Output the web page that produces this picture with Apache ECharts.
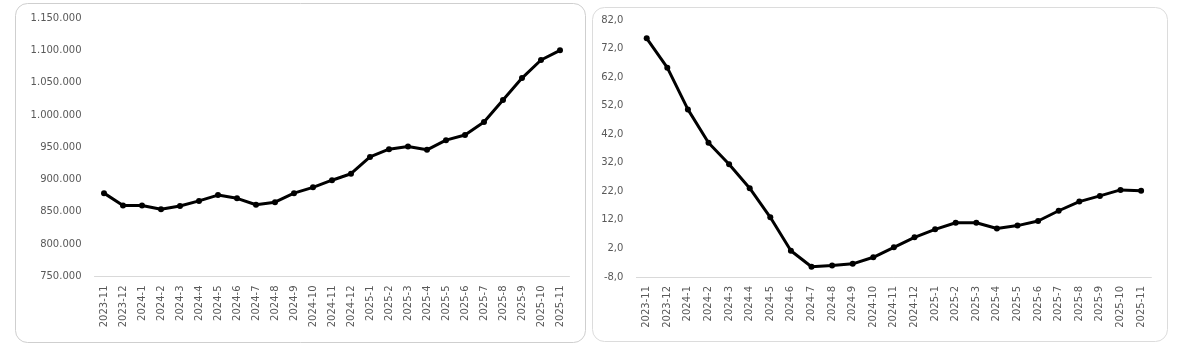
<!DOCTYPE html>
<html>
<head>
<meta charset="utf-8">
<script src="https://cdn.jsdelivr.net/npm/echarts@6/dist/echarts.min.js"></script>
<style>
html,body{margin:0;padding:0;background:#fff;}
#c{width:1200px;height:352px;}
</style>
</head>
<body>
<div id="c"></div>
<script>
const categories = ['2023-11','2023-12','2024-1','2024-2','2024-3','2024-4','2024-5','2024-6','2024-7','2024-8','2024-9','2024-10','2024-11','2024-12','2025-1','2025-2','2025-3','2025-4','2025-5','2025-6','2025-7','2025-8','2025-9','2025-10','2025-11'];
const leftValues = [879000,860000,860000,854000,859000,867000,876000,871000,861000,865000,879000,888000,899000,909000,935000,947000,951000,946000,961000,969000,989000,1023000,1057000,1085000,1100000];
const rightValues = [75.6,65.3,50.7,39.0,31.5,23.1,12.9,1.2,-4.4,-4.0,-3.4,-1.1,2.4,5.9,8.7,11.0,11.0,9.0,10.0,11.6,15.2,18.4,20.4,22.5,22.2];
const leftAxis = {min:750000, max:1150000, interval:50000};
const rightAxis = {min:-8, max:82, interval:10};

const fmtThousands = v => String(Math.round(v)).replace(/\B(?=(\d{3})+(?!\d))/g, '.');
const fmtDec = v => v.toFixed(1).replace('.', ',');

const labelColor = '#595959';
const fontFam = '"DejaVu Sans", sans-serif';

function xAxis(gi){
  return {
    type:'category', gridIndex:gi, data:categories, boundaryGap:true,
    axisLine:{show:true, onZero:false, lineStyle:{color:'#d9d9d9', width:1}},
    axisTick:{show:false},
    axisLabel:{rotate:90, interval:0, color:labelColor, fontSize:10, fontFamily:fontFam, margin:9}
  };
}
function yAxis(gi, ax, fmt){
  return {
    type:'value', gridIndex:gi, min:ax.min, max:ax.max, interval:ax.interval,
    axisLine:{show:false}, axisTick:{show:false}, splitLine:{show:false},
    axisLabel:{color:labelColor, fontSize:10, fontFamily:fontFam, margin:13, formatter:fmt}
  };
}
function lineSeries(gi, data){
  return {
    type:'line', xAxisIndex:gi, yAxisIndex:gi, data:data,
    symbol:'circle', symbolSize:6, showSymbol:true,
    lineStyle:{color:'#000', width:3},
    itemStyle:{color:'#000'},
    animation:false
  };
}

const chart = echarts.init(document.getElementById('c'), null, {renderer:'canvas'});
chart.setOption({
  backgroundColor:'#fff',
  animation:false,
  graphic:[
    {type:'rect', shape:{x:15.5, y:3.5, width:570, height:339, r:12}, style:{fill:'none', stroke:'#cfcfcf', lineWidth:1}, z:-1},
    {type:'rect', shape:{x:592.5, y:7.5, width:575, height:334, r:12}, style:{fill:'none', stroke:'#dcdcdc', lineWidth:1}, z:-1}
  ],
  grid:[
    {left:94.5, top:18, width:475, height:258.5, containLabel:false},
    {left:636.4, top:20, width:515, height:257, containLabel:false}
  ],
  xAxis:[xAxis(0), xAxis(1)],
  yAxis:[yAxis(0, leftAxis, fmtThousands), yAxis(1, rightAxis, fmtDec)],
  series:[lineSeries(0, leftValues), lineSeries(1, rightValues)]
});
</script>
</body>
</html>
